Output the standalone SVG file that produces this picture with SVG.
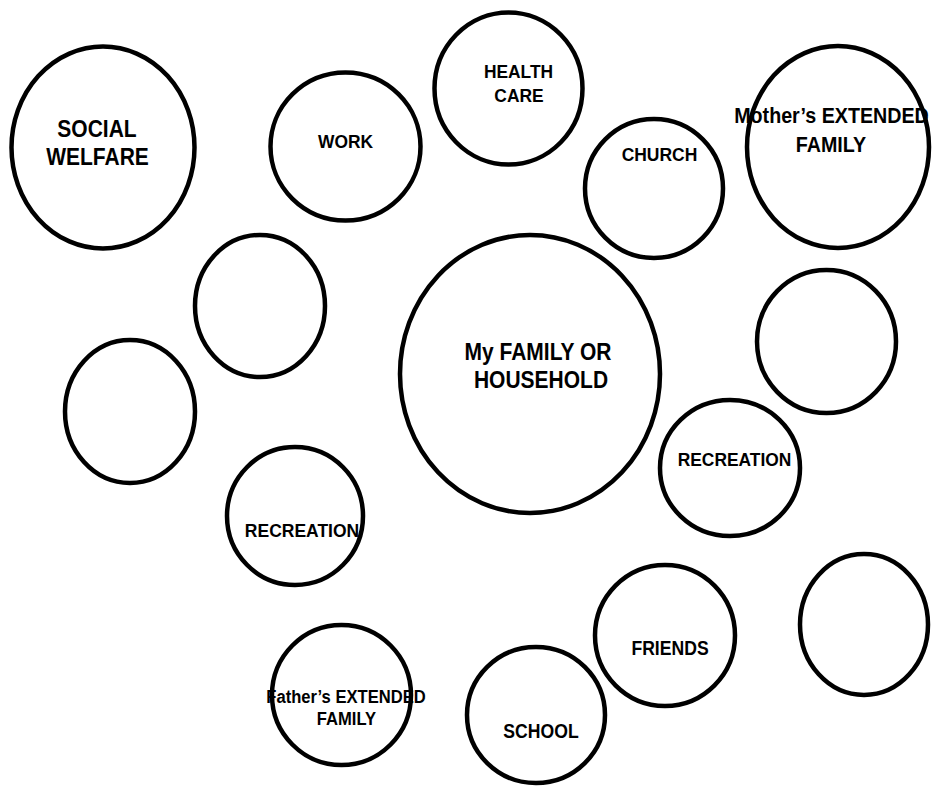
<svg xmlns="http://www.w3.org/2000/svg" width="940" height="789" viewBox="0 0 940 789">
<style>
.c{fill:none;stroke:#000;stroke-width:4.5}
.t{font-family:"Liberation Sans",Arial,sans-serif;font-weight:bold;fill:#000;text-anchor:middle}
</style>
<rect width="940" height="789" fill="#fff"/>
<g id="social-welfare">
<text class="t" font-size="21" transform="translate(97 137) scale(1 1.1)">SOCIAL</text>
<text class="t" font-size="21" transform="translate(97.5 165) scale(1 1.1)">WELFARE</text>
<ellipse class="c" cx="103" cy="147.5" rx="91.5" ry="101"/>
</g>
<g id="work">
<text class="t" font-size="17.4" transform="translate(345.5 148) scale(1 1.1)">WORK</text>
<ellipse class="c" cx="345.5" cy="146.5" rx="75" ry="74"/>
</g>
<g id="health-care">
<text class="t" font-size="17.4" transform="translate(518.5 78) scale(1 1.1)">HEALTH</text>
<text class="t" font-size="17.4" transform="translate(519 102) scale(1 1.1)">CARE</text>
<ellipse class="c" cx="508.5" cy="88.5" rx="74" ry="76"/>
</g>
<g id="church">
<text class="t" font-size="17.5" transform="translate(659.5 161) scale(1 1.1)">CHURCH</text>
<ellipse class="c" cx="654" cy="188.5" rx="69" ry="69.5"/>
</g>
<g id="mothers-extended-family">
<text class="t" font-size="19.7" transform="translate(831.5 123) scale(1 1.1)">Mother’s EXTENDED</text>
<text class="t" font-size="19.7" transform="translate(831 152) scale(1 1.1)">FAMILY</text>
<ellipse class="c" cx="838" cy="147" rx="91" ry="101"/>
</g>
<g id="empty-a">
<ellipse class="c" cx="260" cy="306" rx="65" ry="71"/>
</g>
<g id="my-family">
<text class="t" font-size="21" transform="translate(538 360) scale(1 1.1)">My FAMILY OR</text>
<text class="t" font-size="21" transform="translate(541 388) scale(1 1.1)">HOUSEHOLD</text>
<ellipse class="c" cx="530" cy="374" rx="130" ry="139"/>
</g>
<g id="empty-right">
<ellipse class="c" cx="826.5" cy="341.5" rx="69.5" ry="71.5"/>
</g>
<g id="empty-b">
<ellipse class="c" cx="130" cy="411.5" rx="65" ry="71.5"/>
</g>
<g id="recreation-right">
<text class="t" font-size="17.4" transform="translate(734.5 466) scale(1 1.1)">RECREATION</text>
<ellipse class="c" cx="730" cy="468" rx="70" ry="68"/>
</g>
<g id="recreation-left">
<text class="t" font-size="17.5" transform="translate(302 537) scale(1 1.1)">RECREATION</text>
<ellipse class="c" cx="295" cy="516" rx="68" ry="69"/>
</g>
<g id="empty-bottom-right">
<ellipse class="c" cx="864" cy="624.5" rx="64" ry="70.5"/>
</g>
<g id="friends">
<text class="t" font-size="17.6" transform="translate(670 655) scale(1 1.1)">FRIENDS</text>
<ellipse class="c" cx="665" cy="635.5" rx="70" ry="70.5"/>
</g>
<g id="fathers-extended-family">
<text class="t" font-size="16.6" transform="translate(346 703) scale(1 1.1)">Father’s EXTENDED</text>
<text class="t" font-size="16.6" transform="translate(346.5 725) scale(1 1.1)">FAMILY</text>
<ellipse class="c" cx="341.5" cy="695" rx="69.5" ry="70"/>
</g>
<g id="school">
<text class="t" font-size="17.6" transform="translate(541 738) scale(1 1.1)">SCHOOL</text>
<ellipse class="c" cx="536" cy="715" rx="69" ry="68"/>
</g>
<g id="connectors"></g>
</svg>
